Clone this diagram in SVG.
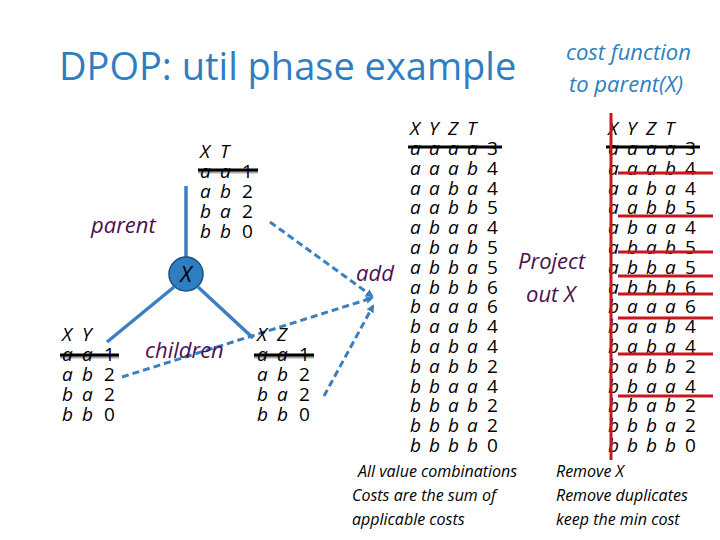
<svg xmlns="http://www.w3.org/2000/svg" width="720" height="540" viewBox="0 0 720 540">
<style>
text{font-family:"Open Sans","Liberation Sans",sans-serif}
.t text{font-size:19px;fill:#000}
.l{font-style:italic}
.lab{font-size:22px;font-style:italic;fill:#4b1050}
.note{font-size:16px;font-style:italic;fill:#000}
.blue{fill:#2e7fc1}
.edge{stroke:#3a7fc0;stroke-width:3.5;fill:none}
.dash{stroke:#3a7fc0;stroke-width:3;stroke-dasharray:7 4;fill:none}
.strike{stroke:#000;stroke-width:3}
.red{stroke:#c8171c;stroke-width:3}
</style>
<defs>
<marker id="ah" markerWidth="8" markerHeight="8" refX="6" refY="4" orient="auto" markerUnits="userSpaceOnUse"><path d="M0,0 L8,4 L0,8 z" fill="#3a7fc0"/></marker>
</defs>
<text x="59" y="80" class="blue" style="font-size:38px">DPOP: util phase example</text>
<text x="566" y="60" class="blue" style="font-size:22px;font-style:italic">cost function</text>
<text x="569" y="92" class="blue" style="font-size:22px;font-style:italic">to parent(X)</text>
<g id="connectors">
<line class="edge" x1="186" y1="186" x2="186" y2="257"/>
<line class="edge" x1="174" y1="287" x2="107" y2="342"/>
<line class="edge" x1="198" y1="287" x2="253" y2="338"/>
<line class="dash" x1="270" y1="222" x2="372" y2="296" marker-end="url(#ah)"/>
<line class="dash" x1="122" y1="377" x2="372" y2="298" marker-end="url(#ah)"/>
<line class="dash" x1="324" y1="396" x2="373" y2="306" marker-end="url(#ah)"/>
</g>
<g id="nodeX"><circle cx="186" cy="274" r="17" fill="#2e7fc1" stroke="#1d4f7a" stroke-width="1.5"/><text x="186" y="282" text-anchor="middle" class="l" style="font-size:22px">X</text></g>
<g id="labels">
<text x="91" y="233" class="lab">parent</text>
<text x="145" y="358" class="lab">children</text>
<text x="356" y="281" class="lab">add</text>
<text x="518" y="269" class="lab">Project</text>
<text x="526" y="302" class="lab">out X</text>
</g>
<g id="tableXT" class="t">
<text x="200 220" y="158" class="l">XT</text>
<line x1="198" y1="172" x2="258" y2="172" stroke="#aaa" stroke-width="3"/><line class="strike" x1="198" y1="170" x2="258" y2="170"/>
<text x="200 220" y="178" class="l">aa</text><text x="242" y="178">1</text>
<text x="200 220" y="198" class="l">ab</text><text x="242" y="198">2</text>
<text x="200 220" y="218" class="l">ba</text><text x="242" y="218">2</text>
<text x="200 220" y="238" class="l">bb</text><text x="242" y="238">0</text>
</g>
<g id="tableXY" class="t">
<text x="62 82" y="341" class="l">XY</text>
<line x1="60" y1="357" x2="119" y2="357" stroke="#aaa" stroke-width="3"/><line class="strike" x1="60" y1="355" x2="119" y2="355"/>
<text x="62 82" y="361" class="l">aa</text><text x="104" y="361">1</text>
<text x="62 82" y="381" class="l">ab</text><text x="104" y="381">2</text>
<text x="62 82" y="401" class="l">ba</text><text x="104" y="401">2</text>
<text x="62 82" y="421" class="l">bb</text><text x="104" y="421">0</text>
</g>
<g id="tableXZ" class="t">
<text x="257 277" y="341" class="l">XZ</text>
<line x1="254" y1="357" x2="314" y2="357" stroke="#aaa" stroke-width="3"/><line class="strike" x1="254" y1="355" x2="314" y2="355"/>
<text x="257 277" y="361" class="l">aa</text><text x="299" y="361">1</text>
<text x="257 277" y="381" class="l">ab</text><text x="299" y="381">2</text>
<text x="257 277" y="401" class="l">ba</text><text x="299" y="401">2</text>
<text x="257 277" y="421" class="l">bb</text><text x="299" y="421">0</text>
</g>
<g id="tableJoin" class="t">
<text x="410 429 448 467" y="135" class="l">XYZT</text>
<line class="strike" x1="408" y1="147" x2="502" y2="147"/>
<text x="410 429 448 467" y="155" class="l">aaaa</text><text x="487" y="155">3</text>
<text x="410 429 448 467" y="175" class="l">aaab</text><text x="487" y="175">4</text>
<text x="410 429 448 467" y="195" class="l">aaba</text><text x="487" y="195">4</text>
<text x="410 429 448 467" y="214" class="l">aabb</text><text x="487" y="214">5</text>
<text x="410 429 448 467" y="234" class="l">abaa</text><text x="487" y="234">4</text>
<text x="410 429 448 467" y="254" class="l">abab</text><text x="487" y="254">5</text>
<text x="410 429 448 467" y="274" class="l">abba</text><text x="487" y="274">5</text>
<text x="410 429 448 467" y="294" class="l">abbb</text><text x="487" y="294">6</text>
<text x="410 429 448 467" y="313" class="l">baaa</text><text x="487" y="313">6</text>
<text x="410 429 448 467" y="333" class="l">baab</text><text x="487" y="333">4</text>
<text x="410 429 448 467" y="353" class="l">baba</text><text x="487" y="353">4</text>
<text x="410 429 448 467" y="373" class="l">babb</text><text x="487" y="373">2</text>
<text x="410 429 448 467" y="393" class="l">bbaa</text><text x="487" y="393">4</text>
<text x="410 429 448 467" y="412" class="l">bbab</text><text x="487" y="412">2</text>
<text x="410 429 448 467" y="432" class="l">bbba</text><text x="487" y="432">2</text>
<text x="410 429 448 467" y="452" class="l">bbbb</text><text x="487" y="452">0</text>
</g>
<g id="tableProj" class="t">
<text x="608 627 646 665" y="135" class="l">XYZT</text>
<line class="strike" x1="606" y1="147" x2="700" y2="147"/>
<text x="608 627 646 665" y="155" class="l">aaaa</text><text x="685" y="155">3</text>
<text x="608 627 646 665" y="175" class="l">aaab</text><text x="685" y="175">4</text>
<text x="608 627 646 665" y="195" class="l">aaba</text><text x="685" y="195">4</text>
<text x="608 627 646 665" y="214" class="l">aabb</text><text x="685" y="214">5</text>
<text x="608 627 646 665" y="234" class="l">abaa</text><text x="685" y="234">4</text>
<text x="608 627 646 665" y="254" class="l">abab</text><text x="685" y="254">5</text>
<text x="608 627 646 665" y="274" class="l">abba</text><text x="685" y="274">5</text>
<text x="608 627 646 665" y="294" class="l">abbb</text><text x="685" y="294">6</text>
<text x="608 627 646 665" y="313" class="l">baaa</text><text x="685" y="313">6</text>
<text x="608 627 646 665" y="333" class="l">baab</text><text x="685" y="333">4</text>
<text x="608 627 646 665" y="353" class="l">baba</text><text x="685" y="353">4</text>
<text x="608 627 646 665" y="373" class="l">babb</text><text x="685" y="373">2</text>
<text x="608 627 646 665" y="393" class="l">bbaa</text><text x="685" y="393">4</text>
<text x="608 627 646 665" y="412" class="l">bbab</text><text x="685" y="412">2</text>
<text x="608 627 646 665" y="432" class="l">bbba</text><text x="685" y="432">2</text>
<text x="608 627 646 665" y="452" class="l">bbbb</text><text x="685" y="452">0</text>
<line class="red" x1="611" y1="113" x2="611" y2="460"/>
<line class="red" x1="618" y1="173" x2="713" y2="173"/>
<line class="red" x1="618" y1="216" x2="713" y2="216"/>
<line class="red" x1="618" y1="252" x2="713" y2="252"/>
<line class="red" x1="618" y1="276" x2="713" y2="276"/>
<line class="red" x1="618" y1="294" x2="713" y2="294"/>
<line class="red" x1="618" y1="318" x2="713" y2="318"/>
<line class="red" x1="618" y1="354" x2="713" y2="354"/>
<line class="red" x1="618" y1="396" x2="713" y2="396"/>
</g>
<g id="notes">
<text x="358" y="477" class="note">All value combinations</text>
<text x="352" y="501" class="note">Costs are the sum of</text>
<text x="352" y="525" class="note">applicable costs</text>
<text x="556" y="477" class="note">Remove X</text>
<text x="556" y="501" class="note">Remove duplicates</text>
<text x="556" y="525" class="note">keep the min cost</text>
</g>
</svg>
